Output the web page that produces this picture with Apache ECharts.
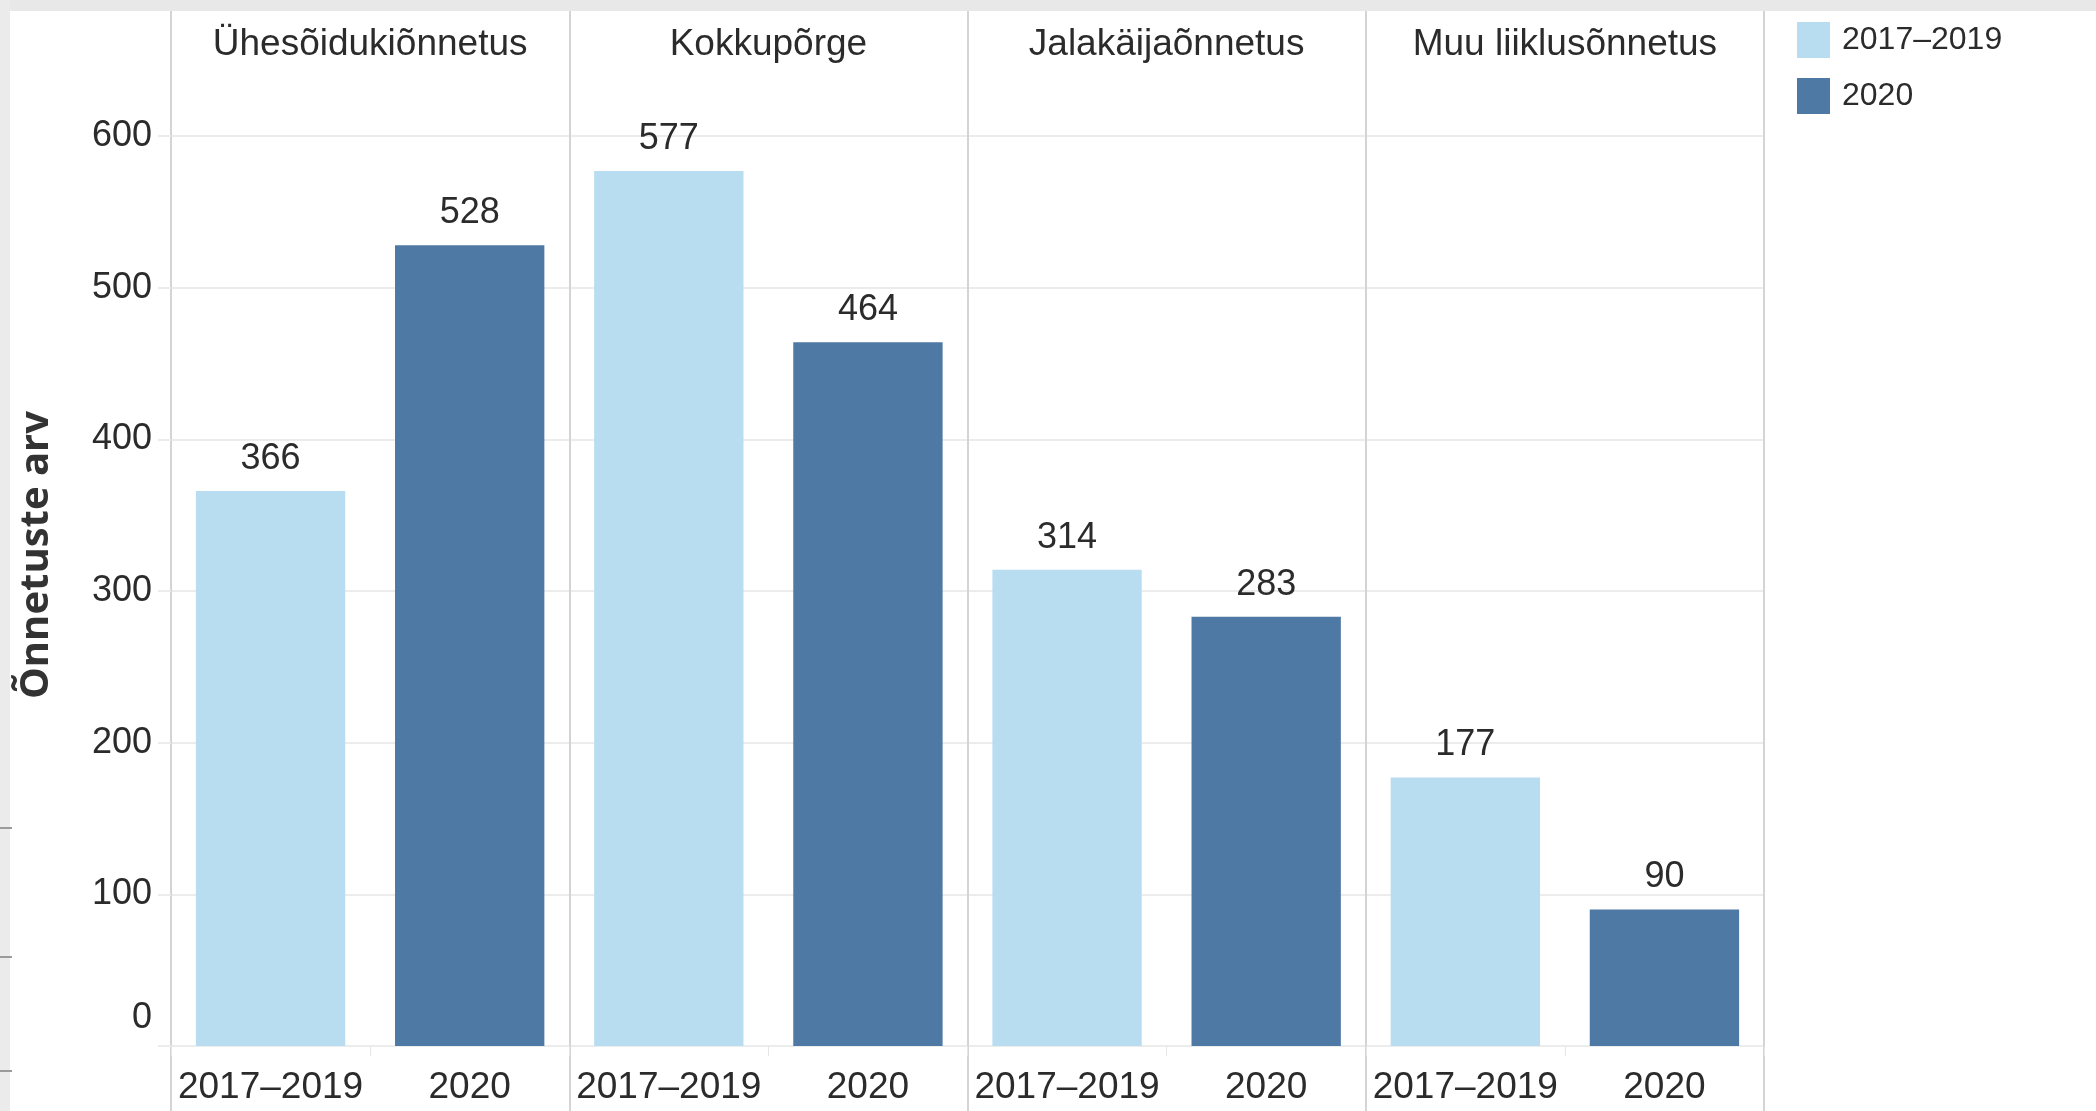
<!DOCTYPE html>
<html>
<head>
<meta charset="utf-8">
<script src="https://cdn.jsdelivr.net/npm/echarts@6/dist/echarts.min.js"></script>
<style>
  html, body { margin: 0; padding: 0; background: #ffffff; }
  #chart { width: 2096px; height: 1111px; }
</style>
</head>
<body>
<div id="chart"></div>
<script>
// ---- data ----
const panels = ['Ühesõidukiõnnetus', 'Kokkupõrge', 'Jalakäijaõnnetus', 'Muu liiklusõnnetus'];
const periods = ['2017–2019', '2020'];
const values2017_2019 = [366, 577, 314, 177];
const values2020 = [528, 464, 283, 90];
const yTickStep = 100;
const yMax = 600;
const axisTitle = 'Õnnetuste arv';

// ---- build ----
const FONT = "'Liberation Sans', Arial, sans-serif";
const TEXT = '#2b2b2b';
const categories = [];
const seriesA = [];
const seriesB = [];
panels.forEach((p, i) => {
  categories.push(periods[0], periods[1]);
  seriesA.push(values2017_2019[i], null);
  seriesB.push(null, values2020[i]);
});

const chart = echarts.init(document.getElementById('chart'), null, { renderer: 'canvas' });
const gridLine = '#ececec';

chart.setOption({
  backgroundColor: '#ffffff',
  animation: false,
  textStyle: { fontFamily: FONT },
  legend: {
    data: periods,
    orient: 'vertical',
    left: 1797,
    top: 22,
    padding: 0,
    itemWidth: 33,
    itemHeight: 36,
    itemGap: 20,
    icon: 'rect',
    textStyle: { fontSize: 32, color: TEXT, fontFamily: FONT, padding: [0, 0, 0, 7] }
  },
  grid: [
    { left: 171, right: 332, top: 136, bottom: 65, outerBoundsMode: 'none', containLabel: false },
    { left: 171, right: 332, top: 11, bottom: 0, outerBoundsMode: 'none', containLabel: false }
  ],
  xAxis: [
    {
      type: 'category',
      gridIndex: 0,
      data: categories,
      axisLine: { show: false },
      axisTick: { show: true, interval: 0, length: 10, lineStyle: { color: '#e6e6e6', width: 1 } },
      axisLabel: { interval: 0, fontSize: 37, color: TEXT, margin: 23, fontFamily: FONT },
      splitLine: { show: false }
    },
    {
      type: 'category',
      gridIndex: 1,
      position: 'top',
      data: panels,
      axisLine: { show: false },
      axisTick: { show: false },
      axisLabel: { inside: true, interval: 0, fontSize: 37, color: TEXT, margin: 15, fontFamily: FONT },
      splitLine: { show: true, interval: 0, lineStyle: { color: '#d4d4d4', width: 2 } }
    }
  ],
  yAxis: [
    {
      type: 'value',
      gridIndex: 0,
      min: 0,
      max: yMax,
      interval: yTickStep,
      name: axisTitle,
      nameLocation: 'middle',
      nameRotate: 90,
      nameGap: 114,
      nameTextStyle: {
        fontSize: 40, fontWeight: 'bold', color: '#333',
        fontFamily: "'Open Sans', sans-serif",
        padding: [0, 0, 0, 72]
      },
      axisLine: { show: false },
      axisTick: { show: true, length: 13, lineStyle: { color: gridLine, width: 2 } },
      axisLabel: {
        fontSize: 36, color: TEXT, margin: 19, lineHeight: 56, fontFamily: FONT,
        formatter: v => (v === 0 ? '0\n ' : String(v))
      },
      splitLine: { show: true, lineStyle: { color: gridLine, width: 2 } }
    },
    { type: 'value', gridIndex: 1, show: false, min: 0, max: 1 }
  ],
  series: [
    {
      name: periods[0],
      type: 'bar',
      xAxisIndex: 0, yAxisIndex: 0,
      data: seriesA,
      barWidth: '75%',
      barGap: '-100%',
      itemStyle: { color: '#b9ddf0' },
      label: { show: true, position: 'top', distance: 14, fontSize: 36, color: TEXT, fontFamily: FONT }
    },
    {
      name: periods[1],
      type: 'bar',
      xAxisIndex: 0, yAxisIndex: 0,
      data: seriesB,
      barWidth: '75%',
      barGap: '-100%',
      itemStyle: { color: '#4e79a5' },
      label: { show: true, position: 'top', distance: 14, fontSize: 36, color: TEXT, fontFamily: FONT }
    }
  ],
  graphic: [
    { type: 'rect', shape: { x: 0, y: 0, width: 2096, height: 11 }, style: { fill: '#e7e8e7' }, z: 100 },
    { type: 'rect', shape: { x: 0, y: 0, width: 10, height: 1111 }, style: { fill: '#eaebea' }, z: 100 },
    { type: 'line', shape: { x1: 0, y1: 828, x2: 12, y2: 828 }, style: { stroke: '#9a9a9a', lineWidth: 2 }, z: 101 },
    { type: 'line', shape: { x1: 0, y1: 957, x2: 12, y2: 957 }, style: { stroke: '#9a9a9a', lineWidth: 2 }, z: 101 },
    { type: 'line', shape: { x1: 0, y1: 1071, x2: 12, y2: 1071 }, style: { stroke: '#9a9a9a', lineWidth: 2 }, z: 101 }
  ]
});
</script>
</body>
</html>
